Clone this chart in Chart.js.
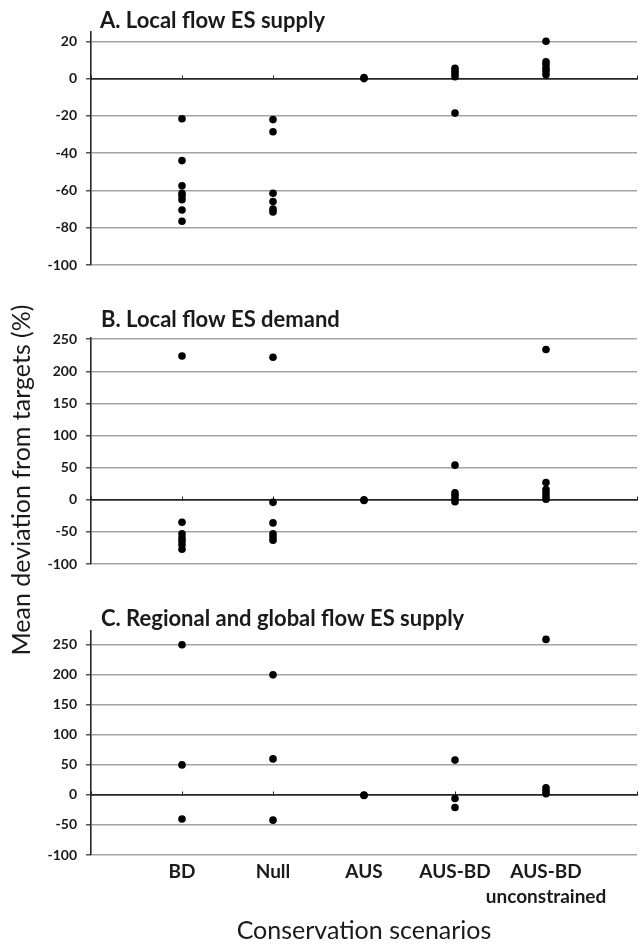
<!DOCTYPE html>
<html>
<head>
<meta charset="utf-8">
<script src="https://cdn.jsdelivr.net/npm/chart.js@4.4.1/dist/chart.umd.min.js"></script>
<style>
  html, body { margin: 0; padding: 0; background: #fff; }
  #page { position: relative; width: 641px; height: 946px; overflow: hidden; background: #fff; }
  .layer { position: absolute; left: 0; top: 0; width: 641px; height: 946px; }
</style>
</head>
<body>
<div id="page">
  <div class="layer"><canvas id="cA"></canvas></div>
  <div class="layer"><canvas id="cB"></canvas></div>
  <div class="layer"><canvas id="cC"></canvas></div>
</div>
<script>
// Conservation scenarios along the horizontal axis (placed at x = 1..5)
const scenarios = ['BD', 'Null', 'AUS', 'AUS-BD', ['AUS-BD', 'unconstrained']];

// A. Local flow ES supply: deviations per scenario
const localSupply = [
  [-21.5, -44, -57.5, -61.5, -63, -65, -70.5, -76.5],
  [-22, -28.5, -61.5, -66, -70, -71.5],
  [0, 0.5],
  [5.5, 4, 2.5, 1, -18.5],
  [20, 9, 7.5, 5.5, 4, 2]
];

// B. Local flow ES demand
const localDemand = [
  [224, -35, -53, -59, -64, -70, -77],
  [222, -4, -36, -53, -58, -63],
  [0, -1],
  [54, 11, 7, 2, -3],
  [234, 27, 16, 11, 6, 1]
];

// C. Regional and global flow ES supply
const regionalSupply = [
  [250, 50, -40],
  [200, 60, -42],
  [0, -1],
  [58, -6, -21],
  [259, 12, 7, 2]
];

// Y tick values per panel
const ticksA = [-100, -80, -60, -40, -20, 0, 20];
const ticksB = [-100, -50, 0, 50, 100, 150, 200, 250];
const ticksC = [-100, -50, 0, 50, 100, 150, 200, 250];

const yTitle = 'Mean deviation from targets (%)';
const xTitle = 'Conservation scenarios';

const TXT = '#1a1a1a';
const GRID = '#a3a3a3';
const AXIS = '#262626';
const AXIS_LEFT = 91;
const FONT = 'Lato, sans-serif';

function toPoints(groups) {
  const pts = [];
  groups.forEach((vals, i) => vals.forEach(v => pts.push({ x: i + 1, y: v })));
  return pts;
}

// Panel heading just above the plot area, plus an optional shared side title
const panelText = {
  id: 'panelText',
  afterDraw(chart, args, opts) {
    const { ctx, chartArea } = chart;
    ctx.save();
    ctx.font = 'bold 22px ' + FONT;
    ctx.fillStyle = TXT;
    ctx.textAlign = 'left';
    ctx.textBaseline = 'alphabetic';
    ctx.fillText(opts.text, chartArea.left + opts.dx, chartArea.top - opts.dy);
    if (opts.side) {
      ctx.translate(opts.side.x, opts.side.y);
      ctx.rotate(-Math.PI / 2);
      ctx.font = '25px ' + FONT;
      ctx.textAlign = 'center';
      ctx.textBaseline = 'middle';
      ctx.fillText(opts.side.text, 0, 0);
    }
    ctx.restore();
  }
};

function makePanel(id, groups, tickVals, yMax, title, pad, withLabels) {
  const scales = {
    x: {
      type: 'linear', min: 0, max: 6,
      position: { y: 0 },
      ticks: { display: false, stepSize: 1 },
      grid: { drawOnChartArea: false, drawTicks: true, tickLength: -4, tickColor: AXIS, tickWidth: 1 },
      border: { display: true, color: AXIS, width: 1.5 }
    },
    y: {
      type: 'linear', min: tickVals[0], max: yMax,
      afterBuildTicks(scale) { scale.ticks = tickVals.map(v => ({ value: v })); },
      afterFit(scale) { scale.width = AXIS_LEFT; },
      ticks: {
        color: TXT, padding: 9,
        font: { family: FONT, size: 14, weight: 'bold' }
      },
      grid: {
        color: ctx => (ctx.tick && ctx.tick.value === 0) ? AXIS : GRID,
        lineWidth: 1.6, tickLength: 5, tickColor: AXIS, tickWidth: 1.2
      },
      border: { display: true, color: AXIS, width: 1.6 }
    }
  };
  if (withLabels) {
    scales.xb = {
      type: 'linear', min: 0, max: 6, position: 'bottom',
      afterBuildTicks(scale) { scale.ticks = scenarios.map((s, i) => ({ value: i + 1 })); },
      afterFit(scale) { scale.height = 91; },
      ticks: {
        color: TXT, padding: 5, maxRotation: 0, autoSkip: false,
        font: { family: FONT, size: 19, weight: 'bold', lineHeight: 1.3 },
        callback: v => scenarios[v - 1]
      },
      grid: { display: false, drawTicks: false },
      border: { display: false },
      title: {
        display: true, text: xTitle, color: TXT,
        font: { family: FONT, size: 25 },
        padding: { top: 0, bottom: 0 }
      }
    };
  }
  return new Chart(document.getElementById(id), {
    type: 'scatter',
    data: {
      datasets: [{
        data: toPoints(groups),
        pointRadius: 3.8, pointHoverRadius: 3.8,
        backgroundColor: '#000', borderWidth: 0
      }]
    },
    options: {
      responsive: true, maintainAspectRatio: false, animation: false,
      events: [],
      layout: { padding: pad },
      plugins: {
        legend: { display: false }, tooltip: { enabled: false },
        panelText: title
      },
      scales
    },
    plugins: [panelText]
  });
}

// Three stacked panels, each on its own full-page layer
makePanel('cA', localSupply, ticksA, 25,
  { text: 'A. Local flow ES supply', dx: 9, dy: 4 },
  { top: 32, bottom: 681, left: 0, right: 4 }, false);
makePanel('cB', localDemand, ticksB, 252,
  { text: 'B. Local flow ES demand', dx: 10, dy: 11 },
  { top: 338, bottom: 382, left: 0, right: 4 }, false);
makePanel('cC', regionalSupply, ticksC, 273,
  { text: 'C. Regional and global flow ES supply', dx: 10, dy: 5,
    side: { text: yTitle, x: 22, y: 480 } },
  { top: 631, bottom: 0, left: 0, right: 4 }, true);
</script>
</body>
</html>
